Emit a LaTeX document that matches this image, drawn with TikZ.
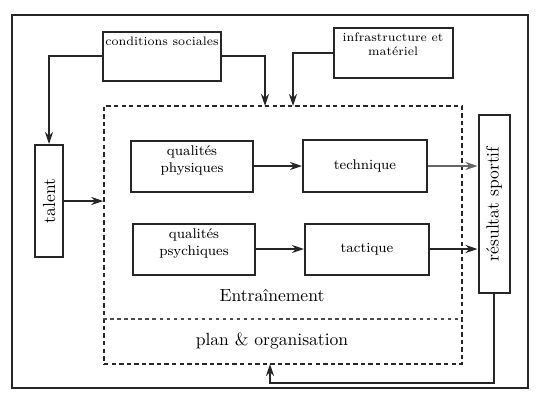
\documentclass[tikz,border=0pt]{standalone}
\usetikzlibrary{arrows.meta}
\begin{document}
\begin{tikzpicture}[x=0.02cm,y=-0.02cm,
    box/.style={rectangle,draw=black!85,line width=0.4mm},
    arr/.style={draw=black!85,line width=0.5mm,-{Stealth[length=2.4mm,width=1.6mm]}}]
  \useasboundingbox (0,0) rectangle (536,393);

  % outer frame
  \draw[black!85,line width=0.3mm] (12,15) rectangle (528,388);

  % outside factors
  \node[box,minimum width=2.38cm,minimum height=0.98cm] (cond) at (162,56){};
  \node[anchor=north,font=\scriptsize] at (cond.north){conditions sociales};
  \node[box,minimum width=2.38cm,minimum height=1cm] (infra) at (393,53){};
  \node[anchor=north,font=\scriptsize,align=center] at (infra.north){infrastructure et\\matériel};
  \node[box,minimum width=0.56cm,minimum height=2.24cm] (talent) at (49,201){};
  \node[rotate=90] at (talent){talent};
  \node[box,minimum width=0.62cm,minimum height=3.56cm] (result) at (494,204){};
  \node[rotate=90] at (result){résultat sportif};

  %training
  \node[rectangle,draw=black!85,line width=0.3mm,dash pattern=on 2.5pt off 1.8pt,minimum width=7.16cm,minimum height=5.16cm] (train) at (283,235){};
  \draw[black!70,line width=0.25mm,dash pattern=on 2pt off 2pt] (train.west |- 0,319) -- (train.east |- 0,319);
  \node at (272,296){Entraînement};
  \node at (272,341){plan \& organisation};

  \node[box,minimum width=2.44cm,minimum height=1.02cm] (phys) at (192,166){};
  \node[anchor=north,font=\footnotesize,align=center] at (phys.north){qualités\\physiques};
  \node[box,minimum width=2.46cm,minimum height=1.02cm] (psych) at (194,249){};
  \node[anchor=north,font=\footnotesize,align=center] at (psych.north){qualités\\psychiques};
  \node[box,minimum width=2.48cm,minimum height=1.04cm,font=\footnotesize] (tech) at (365,166){technique};
  \node[box,minimum width=2.48cm,minimum height=1.02cm,font=\footnotesize] (tact) at (367,249){tactique};

  \coordinate (inA) at (265,106);
  \coordinate (inB) at (293,106);
  \coordinate (ret) at (270,383);
  \coordinate (inC) at (270,364);

  % arrows
  \draw[arr] (cond.west) -| (talent.north);
  \draw[arr] (cond.east) -| (inA);
  \draw[arr] (infra.west) -| (inB);
  \draw[arr] (talent.east) -- (talent.east -| train.west);
  \draw[arr] (phys.east) -- (tech.west);
  \draw[arr] (psych.east) -- (tact.west);
  \draw[arr,draw=black!60,line width=0.3mm] (tech.east) -- (tech.east -| result.west);
  \draw[arr] (tact.east) -- (tact.east -| result.west);
  \draw[arr] (result.south) |- (ret) -- (inC);

\end{tikzpicture}
\end{document}
